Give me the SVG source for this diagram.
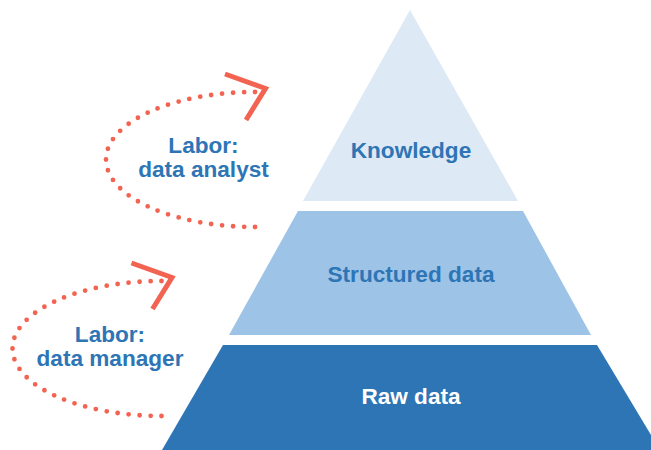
<svg xmlns="http://www.w3.org/2000/svg" width="651" height="450" viewBox="0 0 651 450">
  <style>
    .lbl { font-family: "Liberation Sans", Arial, sans-serif; font-weight: bold; font-size: 22.6px; text-anchor: middle; fill: #2e75b6; }
    .lbl.light { fill: #ffffff; }
    .dots { fill: none; stroke: #f26451; stroke-width: 4.8; stroke-linecap: round; stroke-dasharray: 0 11; }
    .head { fill: none; stroke: #f26451; stroke-width: 5; stroke-linejoin: miter; stroke-linecap: butt; }
  </style>
  <rect width="651" height="450" fill="#ffffff"/>

  <!-- pyramid tiers -->
  <g id="knowledge">
    <polygon points="410,10 518,201 303,201" fill="#dde9f5"/>
    <text class="lbl" x="411" y="157.5">Knowledge</text>
  </g>
  <g id="structured-data">
    <polygon points="298,211 523,211 591,335 229,335" fill="#9dc3e6"/>
    <text class="lbl" x="411" y="282">Structured data</text>
  </g>
  <g id="raw-data">
    <polygon points="223,345 597,345 660,450 162,450" fill="#2e75b6"/>
    <text class="lbl light" x="411" y="403.5">Raw data</text>
  </g>

  <!-- labour loops between tiers -->
  <g id="connectors">
    <g id="loop-analyst">
      <path class="dots" d="M255,227 A149,67.5 0 0 1 255,92"/>
      <polyline class="head" points="225,74 265.5,88.5 246,120"/>
      <text class="lbl" x="203.5" y="153">Labor:</text>
      <text class="lbl" x="203.5" y="177">data analyst</text>
    </g>
    <g id="loop-manager">
      <path class="dots" d="M161.5,416 A149,67.5 0 0 1 161.5,281"/>
      <polyline class="head" points="131.5,263 172,277.5 152.5,309"/>
      <text class="lbl" x="110" y="342">Labor:</text>
      <text class="lbl" x="110" y="366">data manager</text>
    </g>
  </g>
</svg>
